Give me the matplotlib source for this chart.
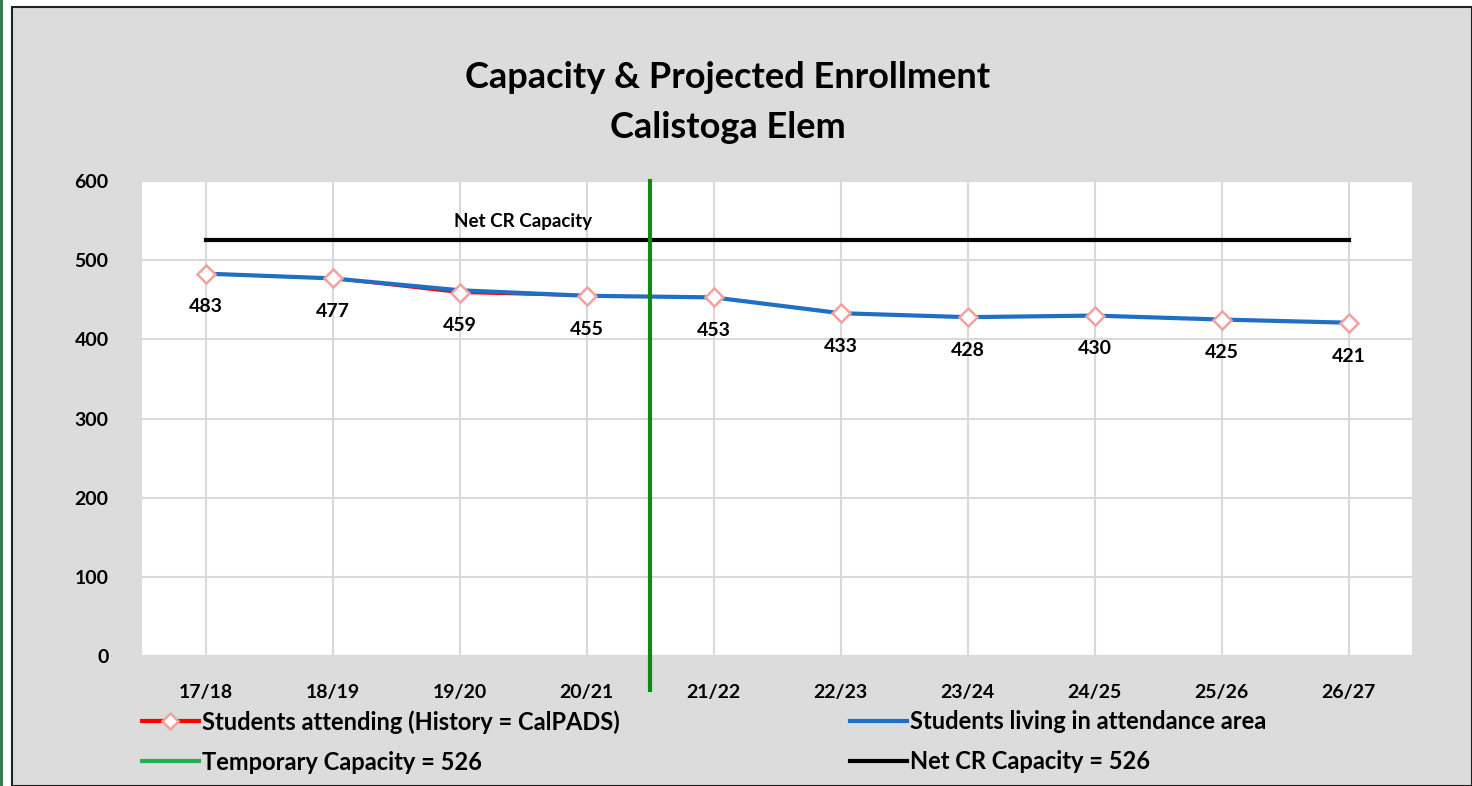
import matplotlib.pyplot as plt
from matplotlib.patches import Rectangle
from matplotlib.lines import Line2D

# Data
years = ["17/18", "18/19", "19/20", "20/21", "21/22", "22/23", "23/24", "24/25", "25/26", "26/27"]
attending = [483, 477, 459, 455, 453, 433, 428, 430, 425, 421]
living = [483, 477, 462, 455, 453, 433, 428, 430, 425, 421]
history_n = 4
net_cr_capacity = 526
temp_capacity_pos = 3.5

plt.rcParams['font.family'] = ['Lato', 'DejaVu Sans']
plt.rcParams['font.weight'] = 'bold'

fig = plt.figure(figsize=(14.72, 7.86), dpi=100, facecolor='white')
W, H = 1472, 786

# chart frame
fig.patches.append(Rectangle((12 / W, 0), 1 - 12 / W, 1 - 7 / H, transform=fig.transFigure,
                             facecolor='#dcdcdc', edgecolor='#202020', linewidth=1.5, zorder=-5))
fig.patches.append(Rectangle((0, 0), 3 / W, 1, transform=fig.transFigure,
                             facecolor='#3b7a52', edgecolor='none', zorder=-5))

ax = fig.add_axes([142 / W, 1 - 656 / H, (1412 - 142) / W, (656 - 181) / H])
ax.set_facecolor('white')
x = list(range(len(years)))

ax.plot(x, [net_cr_capacity] * len(x), color='black', lw=3, zorder=3)
ax.text(2.5, 549, "Net CR Capacity", ha='center', va='center', fontsize=13.5, fontweight='bold')

ax.plot(x[:history_n], attending[:history_n], color='#ff0000', lw=2, zorder=4)
ax.plot(x, living, color='#1f6fc5', lw=3, zorder=5)
ax.plot(x, attending, ls='none', marker='D', ms=9, mfc='white', mec='#f4a0a0', mew=1.8, zorder=6)

for xi, v in zip(x, attending):
    ax.annotate(str(v), (xi, v), xytext=(0, -24), textcoords='offset points', ha='center',
                va='center', fontsize=14, fontweight='bold')

ax.axvline(temp_capacity_pos, ymin=-0.072, ymax=1, color='#108a10', lw=3, clip_on=False, zorder=7)

ax.set_xlim(-0.5, len(years) - 0.5)
ax.set_ylim(0, 600)
ax.set_yticks(range(0, 601, 100))
ax.set_xticks(x)
ax.set_xticklabels(years)
ax.tick_params(length=0, labelsize=14)
ax.tick_params(axis='x', pad=20)
ax.tick_params(axis='y', pad=24)
ax.grid(True, color='#d9d9d9', lw=1.5)
ax.set_axisbelow(True)
for s in ax.spines.values():
    s.set_visible(False)

fig.text(728 / W, 1 - 77 / H, "Capacity & Projected Enrollment", ha='center', va='center',
         fontsize=26, fontweight='bold')
fig.text(728 / W, 1 - 127 / H, "Calistoga Elem", ha='center', va='center',
         fontsize=26, fontweight='bold')

h_red = Line2D([], [], color='#ff0000', lw=3, marker='D', ms=8, mfc='white', mec='#f4a0a0', mew=1.8)
h_green = Line2D([], [], color='#22b14c', lw=3)
h_blue = Line2D([], [], color='#1f6fc5', lw=3)
h_black = Line2D([], [], color='black', lw=3)

kw = dict(frameon=False, handlelength=2.4, handletextpad=0.15, labelspacing=0.72,
          borderpad=0, borderaxespad=0, prop={'weight': 'bold', 'size': 17})
leg1 = fig.legend([h_red, h_green], ["Students attending (History = CalPADS)", "Temporary Capacity = 526"],
                  loc='upper left', bbox_to_anchor=(142 / W, 1 - 710 / H), **kw)
leg2 = fig.legend([h_blue, h_black], ["Students living in attendance area", "Net CR Capacity = 526"],
                  loc='upper left', bbox_to_anchor=(850 / W, 1 - 710 / H), **kw)

plt.savefig("out.png", dpi=100, facecolor=fig.get_facecolor())
